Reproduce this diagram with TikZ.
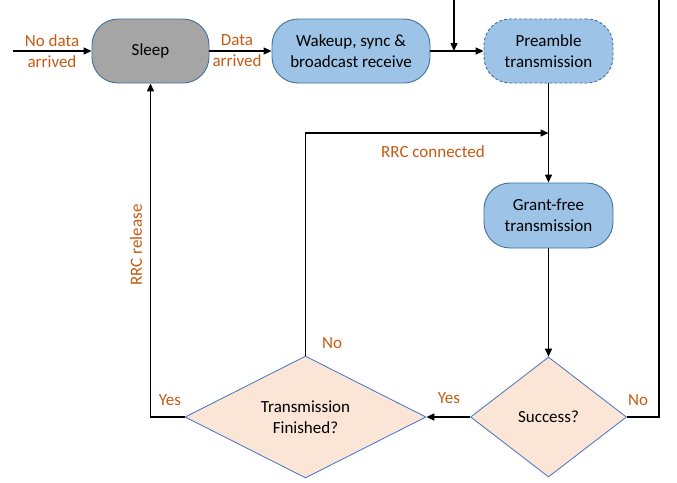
\documentclass[tikz,border=0pt]{standalone}
\usepackage{fontspec}
\setmainfont{Carlito}
\usetikzlibrary{shapes.geometric,arrows.meta}
\definecolor{lbl}{HTML}{C55A11}
\definecolor{bfill}{HTML}{9DC3E6}
\definecolor{bdraw}{HTML}{41719C}
\definecolor{gfill}{HTML}{A5A5A5}
\definecolor{dfill}{HTML}{FBE5D6}
\definecolor{ddraw}{HTML}{4472C4}
\begin{document}
\begin{tikzpicture}[x=1pt,y=-1pt,
  font=\fontsize{17}{21}\selectfont,
  box/.style={draw=bdraw,line width=0.9pt,rounded corners=26pt,align=center,inner sep=0pt,minimum height=64pt},
  dec/.style={diamond,draw=ddraw,line width=0.8pt,fill=dfill,inner sep=0pt,align=center},
  lab/.style={text=lbl,align=center},
  conn/.style={line width=1.3pt,-{Triangle[length=8pt,width=7pt]}},
  plain/.style={line width=1.3pt}]
\useasboundingbox (0,0) rectangle (677,482);
\node[box,fill=gfill,minimum width=117pt] (sleep) at (150.5,51) {Sleep};
\node[box,fill=bfill,minimum width=158pt] (wake) at (351,51) {Wakeup, sync \&\\broadcast receive};
\node[box,fill=bfill,dash pattern=on 3pt off 2pt,minimum width=129pt] (pre) at (548.5,51) {Preamble\\transmission};
\node[box,fill=bfill,minimum width=129pt,minimum height=65pt] (gf) at (548.5,215.5) {Grant-free\\transmission};
\node[dec,minimum width=241pt,minimum height=120pt] (tf) at (305.5,417) {Transmission\\Finished?};
\node[dec,minimum width=156pt,minimum height=120pt] (succ) at (548.5,417) {Success?};
\coordinate (start) at (13,51);
\coordinate (top1) at (454,0);
\coordinate (join) at (454,51);
\coordinate (top2) at (659,0);
\coordinate (rc) at (305.5,133);
\coordinate (rcend) at (548.5,133);
\draw[conn] (start) -- (sleep.west);
\draw[conn] (sleep.east) -- (wake.west);
\draw[conn] (wake.east) -- (pre.west);
\draw[conn] (top1) -- (join);
\draw[conn] (pre.south) -- (gf.north);
\draw[conn] (tf.north) -- (rc) -- (rcend);
\draw[conn] (gf.south) -- (succ.north);
\draw[conn] (succ.west) -- (tf.east);
\draw[conn] (tf.west) -| (sleep.south);
\draw[plain] (succ.east) -| (top2);
\node[lab] (l1) at (52,51) {No data\\arrived};
\node[lab] (l2) at (237,51) {Data\\arrived};
\node[lab] (l3) at (433,152) {RRC connected};
\node[lab,rotate=90] (l4) at (136,245) {RRC release};
\node[lab] (l5) at (332,343) {No};
\node[lab] (l6) at (170,400) {Yes};
\node[lab] (l7) at (449,398) {Yes};
\node[lab] (l8) at (638,400) {No};
\end{tikzpicture}
\end{document}
